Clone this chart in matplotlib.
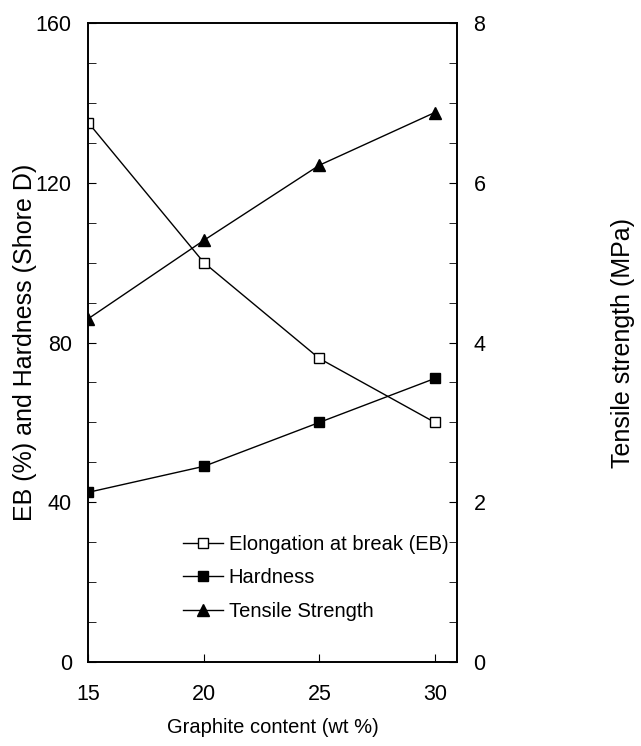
import matplotlib.pyplot as plt
import numpy as np

plt.rcParams['font.family'] = ['Liberation Sans', 'DejaVu Sans']

graphite = [15, 20, 25, 30]
elongation = [135, 100, 76, 60]
hardness = [42.5, 49, 60, 71]
tensile = [4.3, 5.28, 6.22, 6.88]

fig = plt.figure(figsize=(6.41, 7.46), dpi=100)
ax = fig.add_axes([0.138, 0.1126, 0.5746, 0.8565])
ax2 = ax.twinx()

l1, = ax.plot(graphite, elongation, color='black', lw=1, marker='s', ms=7,
              mfc='white', mec='black', mew=1, label='Elongation at break (EB)')
l2, = ax.plot(graphite, hardness, color='black', lw=1, marker='s', ms=7,
              mfc='black', mec='black', label='Hardness')
l3, = ax2.plot(graphite, tensile, color='black', lw=1, marker='^', ms=8,
               mfc='black', mec='black', label='Tensile Strength')

ax.set_xlim(15, 30.95)
ax.set_ylim(0, 160)
ax2.set_ylim(0, 8)
ax.set_xticks([15, 20, 25, 30])
ax.set_yticks(np.arange(0, 161, 40))
ax.set_yticks(np.arange(0, 161, 10), minor=True)
ax2.set_yticks(np.arange(0, 9, 2))
ax2.set_yticks(np.arange(0, 8.1, 0.5), minor=True)

fs = 15.5
ax.tick_params(axis='x', direction='in', length=6, pad=16, labelsize=fs)
ax.tick_params(axis='y', direction='in', length=6, pad=12, labelsize=fs)
ax.tick_params(axis='y', which='minor', direction='in', length=6)
ax2.tick_params(axis='y', direction='in', length=6, pad=12, labelsize=fs)
ax2.tick_params(axis='y', which='minor', direction='in', length=6)

ax.set_xlabel('Graphite content (wt %)', fontsize=14.5)
ax.xaxis.set_label_coords(0.5, -0.087)
ax.set_ylabel('EB (%) and Hardness (Shore D)', fontsize=18)
ax.yaxis.set_label_coords(-0.139, 0.5)
ax2.set_ylabel('Tensile strength (MPa)', fontsize=18)
ax2.yaxis.set_label_coords(1.418, 0.5)

for a in (ax, ax2):
    for s in a.spines.values():
        s.set_linewidth(1.2)

ax.legend(handles=[l1, l2, l3], loc='upper left', bbox_to_anchor=(0.228, 0.215),
          frameon=False, fontsize=14.5, handlelength=2.0, handletextpad=0.3,
          labelspacing=0.72, borderpad=0)

fig.savefig('out.png', dpi=100)
